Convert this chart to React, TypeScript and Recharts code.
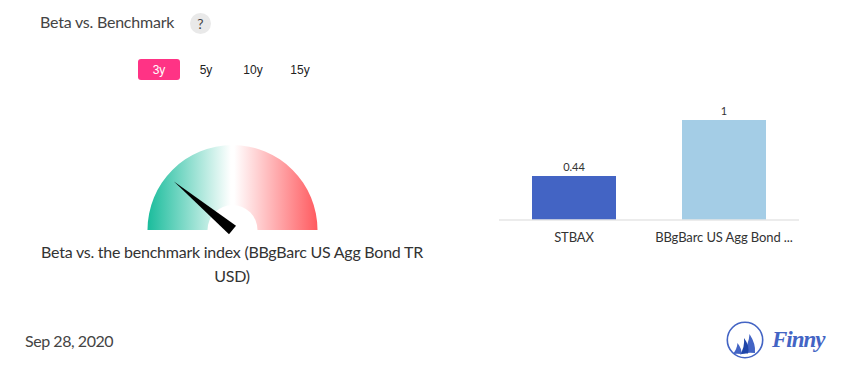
import { BarChart, Bar, XAxis, YAxis, LabelList, Cell, PieChart, Pie } from "recharts";

const font = "Lato, sans-serif";

// bar chart
const categories = ["STBAX", "BBgBarc US Agg Bond ..."];
const betaValues = [0.44, 1];
const barColors = ["#4364c4", "#a4cde6"];

// gauge: beta runs from 0 to 2 over the half circle
const fundBeta = 0.44;
const gaugeMax = 2;
const periods = ["3y", "5y", "10y", "15y"];

const barData = categories.map((name, i) => ({ name, beta: betaValues[i] }));
const bandData = [{ name: "band", value: gaugeMax }];
const needleData = [
  { name: "beta", value: fundBeta },
  { name: "rest", value: gaugeMax - fundBeta },
];

function Needle(props: any) {
  if (props.index !== 0) return null;
  const { cx, cy, endAngle, outerRadius } = props;
  const rad = (endAngle * Math.PI) / 180;
  const tipX = cx + outerRadius * Math.cos(rad);
  const tipY = cy - outerRadius * Math.sin(rad);
  const nx = -Math.sin(rad) * 5.5;
  const ny = -Math.cos(rad) * 5.5;
  return <polygon points={`${tipX},${tipY} ${cx + nx},${cy + ny} ${cx - nx},${cy - ny}`} fill="#000" />;
}

const abs = (left: number, top: number, extra: any = {}) => ({
  position: "absolute" as const,
  left,
  top,
  ...extra,
});

const periodLefts = [138, 185, 232, 279];

export default function App() {
  return (
    <div style={abs(0, 0, { width: 855, height: 376, fontFamily: font, background: "#fff", overflow: "hidden" })}>
      <div style={abs(40, 12, { fontSize: 16, lineHeight: "20px", color: "#444", letterSpacing: -0.22 })}>
        Beta vs. Benchmark
      </div>
      <div
        style={abs(190, 13, {
          width: 21,
          height: 21,
          borderRadius: "50%",
          background: "#e9e9e9",
          color: "#444",
          fontSize: 14,
          lineHeight: "21px",
          textAlign: "center",
        })}
      >
        ?
      </div>

      {periods.map((p, i) => (
        <div
          key={p}
          style={abs(periodLefts[i], 59, {
            width: 42,
            height: 21,
            borderRadius: 3,
            background: i === 0 ? "#ff3385" : "transparent",
            color: i === 0 ? "#fff" : "#222",
            fontFamily: "'Liberation Sans', sans-serif",
            fontSize: 12,
            lineHeight: "22px",
            textAlign: "center",
          })}
        >
          {p}
        </div>
      ))}

      <div style={abs(100, 120)}>
        <PieChart width={265} height={130} margin={{ top: 0, right: 0, bottom: 0, left: 0 }}>
          <defs>
            <linearGradient id="gaugeFill" x1="0" y1="0" x2="1" y2="0">
              <stop offset="0%" stopColor="#1abc9c" />
              <stop offset="49%" stopColor="#ffffff" />
              <stop offset="51%" stopColor="#ffffff" />
              <stop offset="100%" stopColor="#ff5a5f" />
            </linearGradient>
          </defs>
          <Pie
            data={bandData}
            dataKey="value"
            cx={132.5}
            cy={110}
            startAngle={180}
            endAngle={0}
            innerRadius={25}
            outerRadius={85}
            stroke="none"
            fill="url(#gaugeFill)"
            isAnimationActive={false}
          />
          <Pie
            data={needleData}
            dataKey="value"
            cx={132.5}
            cy={110}
            startAngle={180}
            endAngle={0}
            innerRadius={0}
            outerRadius={76}
            stroke="none"
            fill="none"
            labelLine={false}
            label={Needle}
            isAnimationActive={false}
          />
        </PieChart>
      </div>

      <div
        style={abs(32, 240, {
          width: 400,
          fontSize: 16,
          lineHeight: "24px",
          color: "#333",
          textAlign: "center",
          letterSpacing: -0.24,
        })}
      >
        Beta vs. the benchmark index (BBgBarc US Agg Bond TR USD)
      </div>

      <div style={abs(489, 95)}>
        <BarChart width={320} height={155} data={barData} margin={{ top: 25, right: 10, bottom: 0, left: 10 }}>
          <XAxis
            dataKey="name"
            interval={0}
            tickLine={false}
            tickMargin={7}
            axisLine={{ stroke: "#e6e6e6", strokeWidth: 1.5 }}
            tick={{ fill: "#333", fontSize: 13, fontFamily: font, letterSpacing: -0.1 }}
          />
          <YAxis hide domain={[0, 1]} />
          <Bar dataKey="beta" barSize={84} isAnimationActive={false}>
            {barData.map((d, i) => (
              <Cell key={d.name} fill={barColors[i]} />
            ))}
            <LabelList dataKey="beta" position="top" fill="#333" fontSize={11} fontFamily={font} />
          </Bar>
        </BarChart>
      </div>

      <div style={abs(25, 331, { fontSize: 16, lineHeight: "20px", color: "#444", letterSpacing: -0.45 })}>
        Sep 28, 2020
      </div>

      <svg style={abs(720, 316)} width={50} height={48} viewBox="720 316 50 48">
        <circle cx={745} cy={340} r={17.7} fill="none" stroke="#4364c4" strokeWidth={1.6} />
        <path d="M749.5 334 Q756 344 755 353 Q748 352 741.5 354 Q749 345 749.5 334Z" fill="#4364c4" />
        <path d="M744 338 Q750 346 748 353.5 Q744 353 740 354.5 Q745 347 744 338Z" fill="#1f45a8" />
        <path d="M737.5 343 Q742 349 741.5 354 Q737 353.5 733 354 Q737 349 737.5 343Z" fill="#4364c4" />
      </svg>
      <div
        style={abs(772, 324, {
          fontFamily: "'Liberation Serif', serif",
          fontStyle: "italic",
          fontWeight: 700,
          fontSize: 23,
          lineHeight: "32px",
          letterSpacing: -1,
          color: "#4364c4",
        })}
      >
        Finny
      </div>
    </div>
  );
}
